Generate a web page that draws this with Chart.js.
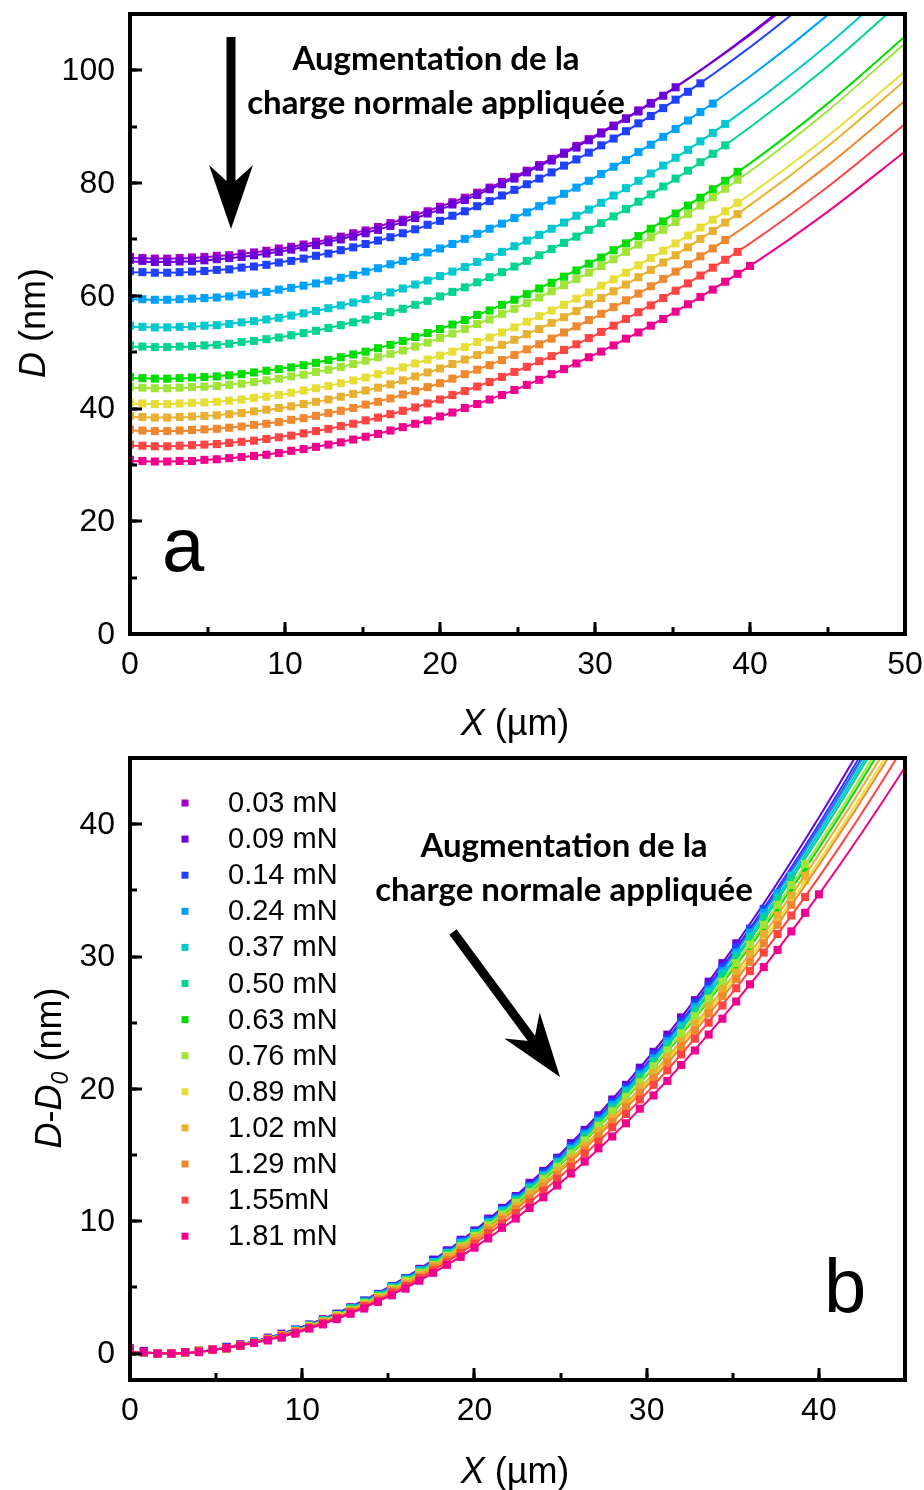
<!DOCTYPE html>
<html lang="fr">
<head>
<meta charset="UTF-8">
<title>Profil D(X) sous charge normale</title>
<script src="https://cdn.jsdelivr.net/npm/chart.js"></script>
<style>
  html, body { margin: 0; padding: 0; background: #fff; }
  .panel { position: absolute; left: 0; width: 924px; height: 745px; }
  #top { top: 0; }
  #bottom { top: 745px; }
</style>
</head>
<body>
<div class="panel" id="top"><canvas id="chartA" width="924" height="745"></canvas></div>
<div class="panel" id="bottom"><canvas id="chartB" width="924" height="745"></canvas></div>

<script>
// charges normales appliquées (légende)
const loads = ['0.03 mN', '0.09 mN', '0.14 mN', '0.24 mN', '0.37 mN', '0.50 mN', '0.63 mN',
               '0.76 mN', '0.89 mN', '1.02 mN', '1.29 mN', '1.55mN', '1.81 mN'];
const colors = ['#a000c8', '#6c00d8', '#2040ff', '#00a0ff', '#00c8cc', '#00d490', '#00dd00',
                '#a0e438', '#e6de36', '#e8b030', '#f08830', '#ff4444', '#f0008c'];

// D0 (nm) : minimum de chaque profil
const D0 = [66.6, 66.0, 64.1, 59.3, 54.4, 50.9, 45.3, 43.6, 40.8, 38.4, 36.0, 33.3, 30.6];

// graduations
const ticksXA = [0, 10, 20, 30, 40, 50];
const ticksYA = [0, 20, 40, 60, 80, 100];
const ticksXB = [0, 10, 20, 30, 40];
const ticksYB = [0, 10, 20, 30, 40];

// positions X (µm) des points mesurés
const xData = [0, 0.8, 1.6, 2.4, 3.2, 4, 4.8, 5.6, 6.4, 7.2, 8, 8.8, 9.6, 10.4, 11.2, 12, 12.8, 13.6,
               14.4, 15.2, 16, 16.8, 17.6, 18.4, 19.2, 20, 20.8, 21.6, 22.4, 23.2, 24, 24.8, 25.6,
               26.4, 27.2, 28, 28.8, 29.6, 30.4, 31.2, 32, 32.8, 33.6, 34.4, 35.2, 36, 36.8, 37.6,
               38.4, 39.2, 40];

// D - D0 (nm) mesuré, une liste par charge
const d003 = [0.3,0.1,0.0,0.0,0.1,0.2,0.3,0.5,0.6,0.9,1.1,1.4,1.8,2.1,2.5,3.0,3.4,3.9,4.5,5.0,5.6,6.3,6.9,7.7,8.4,9.2,10.0,10.8,11.7,12.6,13.6,14.5,15.6,16.6,17.7,18.8,20.0,21.2,22.4,23.6,24.9,26.3,27.6];
const d009 = [0.4,0.2,0.0,0.0,0.1,0.2,0.3,0.5,0.7,0.9,1.2,1.5,1.8,2.2,2.6,3.0,3.5,4.0,4.5,5.1,5.7,6.4,7.1,7.8,8.6,9.3,10.2,11.0,11.9,12.9,13.8,14.8,15.9,16.9,18.0,19.2,20.3,21.6,22.8,24.1,25.4,26.7,28.1,29.5,31.0];
const d014 = [0.3,0.1,0.0,0.0,0.1,0.2,0.3,0.5,0.6,0.9,1.1,1.4,1.8,2.1,2.5,3.0,3.4,4.0,4.5,5.1,5.7,6.3,7.0,7.7,8.5,9.2,10.1,10.9,11.8,12.7,13.7,14.7,15.7,16.7,17.8,19.0,20.1,21.3,22.6,23.8,25.1,26.5,27.8,29.2,30.7,32.1,33.6];
const d024 = [0.3,0.1,0.0,0.0,0.1,0.2,0.3,0.4,0.6,0.9,1.1,1.4,1.8,2.1,2.5,2.9,3.4,3.9,4.4,5.0,5.6,6.3,6.9,7.6,8.4,9.1,9.9,10.8,11.7,12.6,13.5,14.5,15.5,16.6,17.6,18.8,19.9,21.1,22.3,23.6,24.8,26.2,27.5,28.9,30.3,31.8,33.3,34.8];
const d037 = [0.3,0.1,0.0,0.0,0.1,0.2,0.3,0.4,0.6,0.9,1.1,1.4,1.7,2.1,2.5,2.9,3.4,3.9,4.4,5.0,5.6,6.2,6.9,7.6,8.3,9.1,9.9,10.7,11.6,12.5,13.4,14.4,15.4,16.4,17.5,18.6,19.8,20.9,22.1,23.4,24.7,26.0,27.3,28.7,30.1,31.5,33.0,34.5,36.1];
const d050 = [0.3,0.1,0.0,0.0,0.1,0.2,0.3,0.4,0.6,0.9,1.1,1.4,1.7,2.1,2.5,2.9,3.4,3.9,4.4,4.9,5.5,6.2,6.8,7.5,8.2,9.0,9.8,10.6,11.5,12.4,13.3,14.3,15.3,16.3,17.4,18.5,19.6,20.8,22.0,23.2,24.5,25.8,27.1,28.5,29.9,31.3,32.8,34.3,35.8];
const d063 = [0.3,0.1,0.0,0.0,0.1,0.2,0.3,0.4,0.6,0.8,1.1,1.4,1.7,2.0,2.4,2.8,3.3,3.8,4.3,4.8,5.4,6.0,6.7,7.4,8.1,8.8,9.6,10.4,11.3,12.1,13.1,14.0,15.0,16.0,17.0,18.1,19.2,20.4,21.5,22.8,24.0,25.3,26.6,27.9,29.3,30.7,32.1,33.6,35.1,36.7];
const d076 = [0.3,0.1,0.0,0.0,0.1,0.2,0.3,0.4,0.6,0.8,1.1,1.4,1.7,2.1,2.4,2.9,3.3,3.8,4.3,4.9,5.5,6.1,6.7,7.4,8.1,8.9,9.7,10.5,11.4,12.2,13.2,14.1,15.1,16.1,17.2,18.3,19.4,20.5,21.7,22.9,24.2,25.5,26.8,28.1,29.5,30.9,32.4,33.9,35.4,37.0];
const d089 = [0.3,0.1,0.0,0.0,0.1,0.2,0.3,0.4,0.6,0.8,1.1,1.3,1.6,2.0,2.4,2.8,3.2,3.7,4.2,4.7,5.3,5.9,6.5,7.2,7.9,8.6,9.3,10.1,11.0,11.8,12.7,13.6,14.6,15.6,16.6,17.6,18.7,19.8,21.0,22.1,23.3,24.6,25.9,27.2,28.5,29.9,31.3,32.7,34.2,35.7];
const d102 = [0.3,0.1,0.0,0.0,0.1,0.2,0.3,0.4,0.6,0.8,1.1,1.4,1.7,2.0,2.4,2.8,3.2,3.7,4.2,4.8,5.3,5.9,6.6,7.3,8.0,8.7,9.5,10.3,11.1,12.0,12.9,13.8,14.8,15.7,16.8,17.8,18.9,20.1,21.2,22.4,23.6,24.9,26.2,27.5,28.8,30.2,31.7,33.1,34.6,36.1];
const d129 = [0.3,0.1,0.0,0.0,0.1,0.2,0.3,0.4,0.6,0.8,1.1,1.3,1.6,2.0,2.3,2.7,3.2,3.6,4.1,4.7,5.2,5.8,6.5,7.1,7.8,8.5,9.3,10.1,10.9,11.7,12.6,13.5,14.5,15.4,16.4,17.5,18.6,19.7,20.8,22.0,23.2,24.4,25.7,27.0,28.3,29.6,31.0,32.4,33.9];
const d155 = [0.3,0.1,0.0,0.0,0.1,0.2,0.3,0.4,0.6,0.8,1.0,1.3,1.6,1.9,2.3,2.7,3.1,3.6,4.0,4.6,5.1,5.7,6.3,6.9,7.6,8.3,9.1,9.8,10.6,11.4,12.3,13.2,14.1,15.1,16.0,17.1,18.1,19.2,20.3,21.4,22.6,23.8,25.0,26.3,27.6,28.9,30.3,31.7,33.1,34.5];
const d181 = [0.3,0.1,0.0,0.0,0.1,0.1,0.3,0.4,0.6,0.8,1.0,1.2,1.5,1.9,2.2,2.6,3.0,3.4,3.9,4.4,4.9,5.5,6.1,6.7,7.3,8.0,8.7,9.5,10.2,11.0,11.8,12.7,13.6,14.5,15.5,16.4,17.4,18.5,19.5,20.6,21.8,22.9,24.1,25.3,26.6,27.9,29.2,30.5,31.9,33.3,34.7];
const measured = [d003, d009, d014, d024, d037, d050, d063, d076, d089, d102, d129, d155, d181];

// courbes d'ajustement : X (µm) et D - D0 (nm)
const xFit = [0, 2.5, 5, 10, 15, 20, 25, 30, 35, 40, 45, 50];
const f003 = [0.1,0.0,0.3,1.9,4.9,9.2,14.8,21.8,30.1,39.7,50.7,63.0];
const f009 = [0.1,0.0,0.3,2.0,5.0,9.3,15.1,22.2,30.6,40.5,51.7,64.2];
const f014 = [0.1,0.0,0.3,2.0,4.9,9.2,14.9,21.9,30.3,40.0,51.1,63.5];
const f024 = [0.1,0.0,0.3,1.9,4.9,9.1,14.8,21.7,30.0,39.6,50.5,62.8];
const f037 = [0.1,0.0,0.3,1.9,4.8,9.1,14.6,21.5,29.7,39.3,50.1,62.3];
const f050 = [0.1,0.0,0.3,1.9,4.8,9.0,14.5,21.4,29.5,39.0,49.8,61.9];
const f063 = [0.1,0.0,0.3,1.9,4.7,8.8,14.3,21.0,29.0,38.2,48.8,60.7];
const f076 = [0.1,0.0,0.3,1.9,4.7,8.9,14.4,21.1,29.2,38.5,49.2,61.2];
const f089 = [0.1,0.0,0.3,1.8,4.6,8.6,13.9,20.4,28.2,37.2,47.5,59.0];
const f102 = [0.1,0.0,0.3,1.8,4.6,8.7,14.0,20.6,28.5,37.7,48.1,59.8];
const f129 = [0.1,0.0,0.3,1.8,4.5,8.5,13.8,20.2,27.9,36.9,47.1,58.6];
const f155 = [0.1,0.0,0.3,1.8,4.4,8.3,13.4,19.7,27.3,36.0,46.0,57.2];
const f181 = [0.1,0.0,0.3,1.7,4.3,8.0,12.9,19.0,26.3,34.7,44.3,55.0];
const fits = [f003, f009, f014, f024, f037, f050, f063, f076, f089, f102, f129, f155, f181];

const FONT = '"Liberation Sans", Arial, sans-serif';
const ANNOT = 'bold 33px Lato, "Open Sans", sans-serif';

// texte avec italique / indice
function rich(ctx, parts, cx, cy, size, rot) {
    const fontFor = p => (p.it ? 'italic ' : '') + (p.sub ? Math.round(size * 0.65) : size) + 'px ' + FONT;
    let w = 0;
    parts.forEach(p => { ctx.font = fontFor(p); p.w = ctx.measureText(p.t).width; w += p.w; });
    ctx.save();
    ctx.translate(cx, cy);
    if (rot) ctx.rotate(rot);
    ctx.fillStyle = '#000';
    ctx.textBaseline = 'alphabetic';
    let xx = -w / 2;
    parts.forEach(p => {
        ctx.font = fontFor(p);
        ctx.fillText(p.t, xx, size * 0.36 + (p.sub ? size * 0.2 : 0));
        xx += p.w;
    });
    ctx.restore();
}

function arrow(ctx, x1, y1, x2, y2) {
    const len = Math.hypot(x2 - x1, y2 - y1);
    const ux = (x2 - x1) / len, uy = (y2 - y1) / len;
    const nx = -uy, ny = ux;
    ctx.save();
    ctx.strokeStyle = '#000';
    ctx.fillStyle = '#000';
    ctx.lineWidth = 9;
    ctx.beginPath();
    ctx.moveTo(x1, y1);
    ctx.lineTo(x2 - 40 * ux, y2 - 40 * uy);
    ctx.stroke();
    ctx.beginPath();
    ctx.moveTo(x2, y2);
    ctx.lineTo(x2 - 64 * ux + 22 * nx, y2 - 64 * uy + 22 * ny);
    ctx.lineTo(x2 - 44 * ux, y2 - 44 * uy);
    ctx.lineTo(x2 - 64 * ux - 22 * nx, y2 - 64 * uy - 22 * ny);
    ctx.closePath();
    ctx.fill();
    ctx.restore();
}

const decor = {
    id: 'decor',
    afterDraw(chart, args, o) {
        const { ctx, chartArea: a, scales: { x, y } } = chart;
        ctx.save();
        ctx.strokeStyle = '#000';
        ctx.lineWidth = 3;
        const tick = (scale, step, len, horiz) => {
            for (let v = Math.ceil(scale.min / step) * step; v <= scale.max + 1e-9; v += step) {
                const p = Math.round(scale.getPixelForValue(v));
                ctx.beginPath();
                if (horiz) { ctx.moveTo(p, a.bottom); ctx.lineTo(p, a.bottom - len); }
                else { ctx.moveTo(a.left, p); ctx.lineTo(a.left + len, p); }
                ctx.stroke();
            }
        };
        tick(x, o.xMinor, 7, true); tick(x, o.xMajor, 12, true);
        tick(y, o.yMinor, 7, false); tick(y, o.yMajor, 12, false);
        ctx.lineWidth = 4;
        ctx.strokeRect(a.left, a.top, a.right - a.left, a.bottom - a.top);

        // étiquettes des graduations
        ctx.fillStyle = '#000';
        ctx.font = '32px ' + FONT;
        ctx.textBaseline = 'middle';
        ctx.textAlign = 'center';
        x.ticks.forEach(t => ctx.fillText(String(t.value), x.getPixelForValue(t.value), a.bottom + 31));
        ctx.textAlign = 'right';
        y.ticks.forEach(t => ctx.fillText(String(t.value), a.left - 15, y.getPixelForValue(t.value) + 1));
        ctx.textAlign = 'left';

        // titres d'axes
        rich(ctx, [{ t: 'X', it: true }, { t: ' (µm)' }], 515, o.xTitleY, 36, 0);
        rich(ctx, o.yTitle, o.yTitleX, 323, 36, -Math.PI / 2);

        // lettre du panneau
        ctx.fillStyle = '#000';
        ctx.textBaseline = 'alphabetic';
        ctx.font = '76px ' + FONT;
        ctx.fillText(o.letter, o.letterX, o.letterY);

        // annotation
        ctx.font = ANNOT;
        ctx.textAlign = 'center';
        ctx.fillText('Augmentation de la', o.noteX, o.noteY);
        ctx.fillText('charge normale appliquée', o.noteX, o.noteY + 44);
        ctx.textAlign = 'left';
        arrow(ctx, o.arrow[0], o.arrow[1], o.arrow[2], o.arrow[3]);

        // légende
        if (o.legend) {
            ctx.font = '29px ' + FONT;
            ctx.textBaseline = 'middle';
            loads.forEach((lab, i) => {
                const yy = 58 + i * 36.1;
                ctx.fillStyle = colors[i];
                ctx.fillRect(181.5, yy - 3.5, 7, 7);
                ctx.fillStyle = '#000';
                ctx.fillText(lab, 228, yy + 1);
            });
        }
        ctx.restore();
    }
};

function buildDatasets(offset) {
    const sets = [];
    loads.forEach((lab, i) => {
        const base = offset ? D0[i] : 0;
        sets.push({
            label: lab + ' fit',
            data: xFit.map((xv, j) => ({ x: xv, y: base + fits[i][j] })),
            showLine: true,
            borderColor: colors[i],
            borderWidth: 2,
            pointRadius: 0,
            cubicInterpolationMode: 'monotone',
            order: 2 * (loads.length - i) + 1
        });
        sets.push({
            label: lab,
            data: measured[i].map((v, j) => ({ x: xData[j], y: base + v })),
            showLine: false,
            backgroundColor: colors[i],
            borderWidth: 0,
            pointStyle: 'rect',
            pointRadius: 5.7,
            order: 2 * (loads.length - i)
        });
    });
    return sets;
}

function axis(min, max, values, isX, bottom) {
    return {
        type: 'linear',
        min: min,
        max: max,
        grid: { display: false, drawTicks: false },
        border: { display: false },
        ticks: { display: false },
        afterBuildTicks: s => { s.ticks = values.map(v => ({ value: v })); },
        afterFit: s => { if (isX) s.height = 745 - bottom; else s.width = 130; }
    };
}

function makeChart(id, cfg) {
    return new Chart(document.getElementById(id), {
        type: 'scatter',
        data: { datasets: buildDatasets(cfg.offset) },
        options: {
            responsive: false,
            animation: false,
            devicePixelRatio: 1,
            events: [],
            layout: { padding: { top: cfg.top, right: 19, left: 0, bottom: 0 } },
            scales: { x: cfg.x, y: cfg.y },
            plugins: { legend: { display: false }, tooltip: { enabled: false }, decor: cfg.decor }
        },
        plugins: [decor]
    });
}

// (a) D en fonction de X
makeChart('chartA', {
    offset: true,
    top: 14,
    x: axis(0, 50, ticksXA, true, 634),
    y: axis(0, 110, ticksYA, false),
    decor: {
        xMinor: 5, xMajor: 10, yMinor: 10, yMajor: 20,
        xTitleY: 722, yTitleX: 32,
        yTitle: [{ t: 'D', it: true }, { t: ' (nm)' }],
        letter: 'a', letterX: 162, letterY: 571,
        noteX: 436, noteY: 70, arrow: [231, 37, 231, 229],
        legend: false
    }
});

// (b) D - D0 en fonction de X
makeChart('chartB', {
    offset: false,
    top: 13,
    x: axis(0, 45, ticksXB, true, 635),
    y: axis(-2, 45, ticksYB, false),
    decor: {
        xMinor: 5, xMajor: 10, yMinor: 5, yMajor: 10,
        xTitleY: 725, yTitleX: 48,
        yTitle: [{ t: 'D', it: true }, { t: '-' }, { t: 'D', it: true }, { t: '0', it: true, sub: true }, { t: ' (nm)' }],
        letter: 'b', letterX: 824, letterY: 567,
        noteX: 564, noteY: 112, arrow: [453, 187, 560, 332],
        legend: true
    }
});
</script>
</body>
</html>
